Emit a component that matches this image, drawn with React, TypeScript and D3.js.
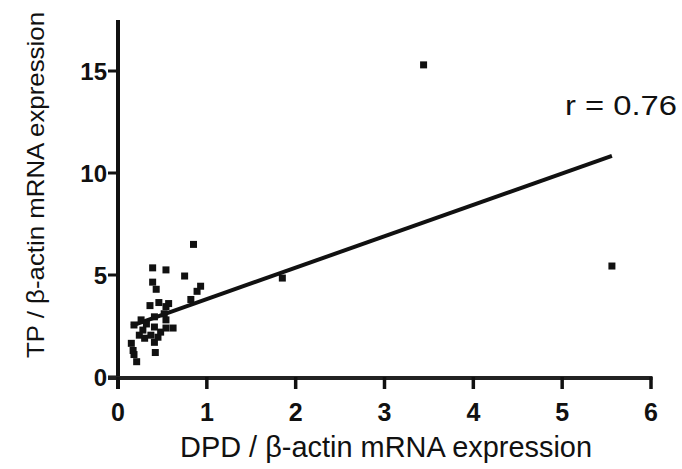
import React, { useEffect, useRef } from 'react';
import * as d3 from 'd3';

// values
const dpdValues = [
  0.15, 0.17, 0.18, 0.21, 0.18, 0.26, 0.28, 0.24, 0.37, 0.41, 0.41, 0.42,
  0.36, 0.39, 0.39, 0.43, 0.54, 0.75, 0.85, 0.93, 0.89, 0.82, 0.46, 0.57,
  0.54, 0.52, 0.41, 0.54, 0.54, 0.62, 0.45, 0.32, 0.48, 0.30,
  1.85, 3.44, 5.56,
];
const tpValues = [
  1.65, 1.3, 1.1, 0.75, 2.55, 2.8, 2.3, 2.05, 2.05, 2.45, 1.7, 1.2,
  3.5, 5.35, 4.65, 4.3, 5.25, 4.95, 6.5, 4.45, 4.2, 3.8, 3.65, 3.6,
  3.45, 3.1, 2.95, 2.8, 2.4, 2.4, 1.95, 2.6, 2.2, 1.9,
  4.85, 15.3, 5.44,
];
const xTicks = [0, 1, 2, 3, 4, 5, 6];
const yTicks = [0, 5, 10, 15];
// regression line as drawn
const fitIntercept = 2.28;
const fitSlope = 1.54;
const rLabel = 'r = 0.76';

const W = 682;
const H = 469;
const ink = '#111';
const font = '"Liberation Sans", Arial, Helvetica, sans-serif';

const App = () => {
  const svgRef = useRef(null);

  useEffect(() => {
    const svg = d3.select(svgRef.current);
    svg.selectAll('*').remove();

    const x = d3.scaleLinear().domain([0, 6]).range([118, 651]);
    const y = d3.scaleLinear().domain([0, 15]).range([377, 71]);

    const g = svg.append('g');

    // y axis
    g.append('line')
      .attr('x1', x(0)).attr('x2', x(0))
      .attr('y1', y(17.5)).attr('y2', y(0) + 12)
      .attr('stroke', ink).attr('stroke-width', 4);

    yTicks.forEach(t => {
      g.append('line')
        .attr('x1', x(0) - 10).attr('x2', x(0))
        .attr('y1', y(t)).attr('y2', y(t))
        .attr('stroke', ink).attr('stroke-width', 3);
      g.append('text')
        .attr('x', x(0) - 11).attr('y', y(t))
        .attr('dy', '0.36em')
        .attr('text-anchor', 'end')
        .attr('font-family', font).attr('font-weight', 'bold')
        .attr('font-size', 24).attr('fill', ink)
        .text(t);
    });

    // x axis
    g.append('line')
      .attr('x1', x(0) - 10).attr('x2', x(6) + 1.5)
      .attr('y1', y(0) + 1).attr('y2', y(0) + 1)
      .attr('stroke', '#222').attr('stroke-width', 4);

    xTicks.forEach(t => {
      g.append('line')
        .attr('x1', x(t)).attr('x2', x(t))
        .attr('y1', y(0)).attr('y2', y(0) + 12)
        .attr('stroke', ink).attr('stroke-width', 3.5);
      g.append('text')
        .attr('x', x(t)).attr('y', y(0) + 44)
        .attr('text-anchor', 'middle')
        .attr('font-family', font).attr('font-weight', 'bold')
        .attr('font-size', 25).attr('fill', ink)
        .text(t);
    });

    // regression line over the data range
    const [x0, x1] = d3.extent(dpdValues);
    const line = d3.line().x(d => x(d[0])).y(d => y(d[1]));
    g.append('path')
      .datum([[x0, fitIntercept + fitSlope * x0], [x1, fitIntercept + fitSlope * x1]])
      .attr('fill', 'none')
      .attr('stroke', ink)
      .attr('stroke-width', 4)
      .attr('d', line);

    // points
    const s = 7;
    g.selectAll('.pt')
      .data(dpdValues.map((v, i) => [v, tpValues[i]]))
      .enter()
      .append('rect')
      .attr('class', 'pt')
      .attr('x', d => x(d[0]) - s / 2)
      .attr('y', d => y(d[1]) - s / 2)
      .attr('width', s).attr('height', s)
      .attr('fill', ink);

    // r label
    g.append('text')
      .attr('x', 565).attr('y', 115)
      .attr('font-family', font).attr('font-size', 28)
      .attr('textLength', 112).attr('lengthAdjust', 'spacingAndGlyphs')
      .attr('fill', ink)
      .text(rLabel);

    // axis titles
    g.append('text')
      .attr('x', 386).attr('y', 457)
      .attr('text-anchor', 'middle')
      .attr('font-family', font).attr('font-size', 30)
      .attr('textLength', 412).attr('lengthAdjust', 'spacingAndGlyphs')
      .attr('fill', ink)
      .text('DPD / β-actin mRNA expression');

    g.append('text')
      .attr('transform', 'translate(44,185) rotate(-90)')
      .attr('text-anchor', 'middle')
      .attr('font-family', font).attr('font-size', 24)
      .attr('textLength', 346).attr('lengthAdjust', 'spacingAndGlyphs')
      .attr('fill', ink)
      .text('TP / β-actin mRNA expression');
  }, []);

  return (
    <svg
      ref={svgRef}
      width={W}
      height={H}
      style={{ position: 'absolute', left: 0, top: 0, background: '#fff' }}
    />
  );
};

export default App;
